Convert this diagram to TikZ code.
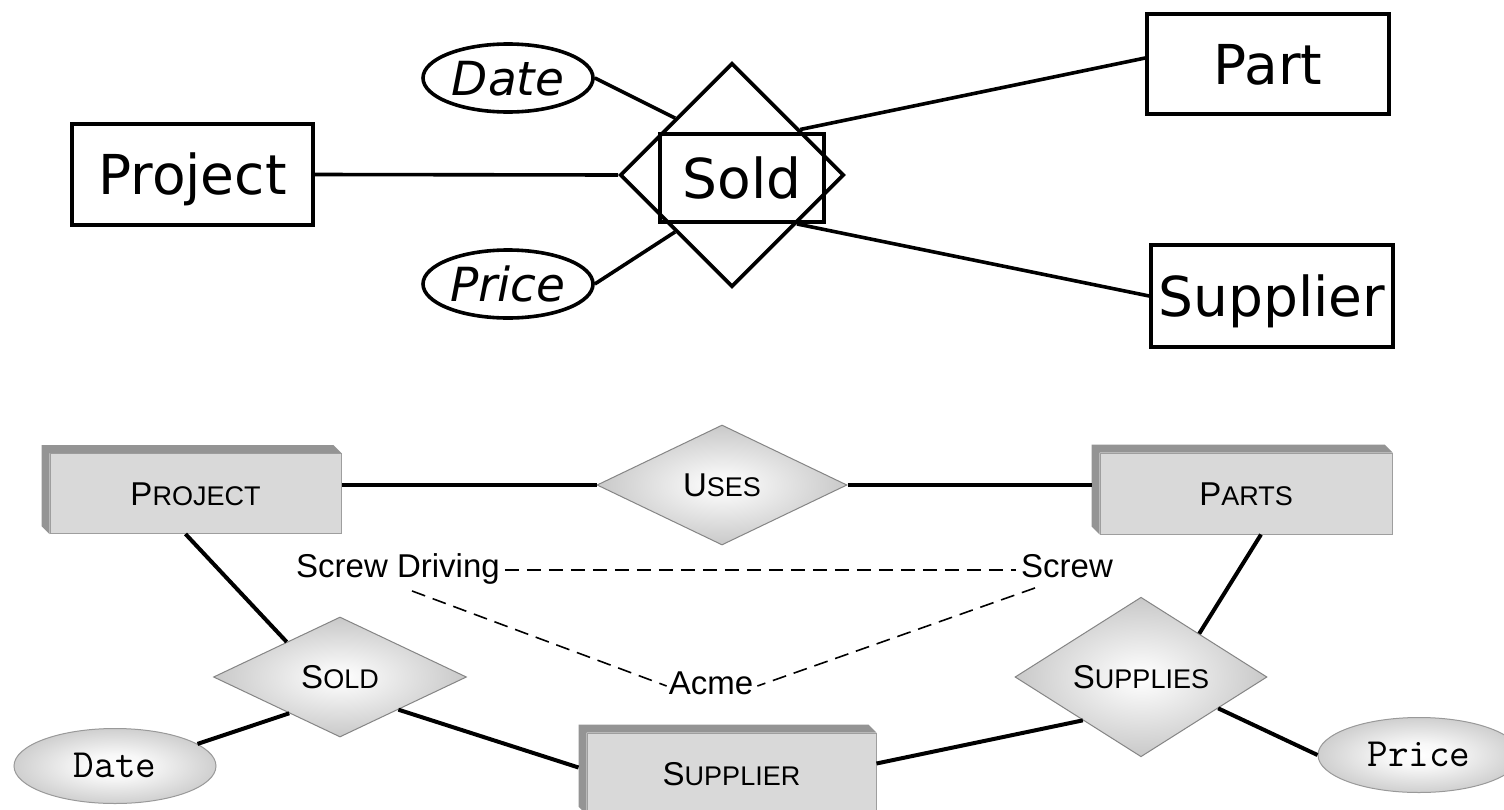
\documentclass[tikz,border=0pt]{standalone}
\usepackage{fontspec}
\setmainfont{DejaVu Sans}
\newfontfamily\helv{Liberation Sans}
\usetikzlibrary{shapes.geometric,calc}
\pgfdeclareradialshading{erdia}{\pgfpoint{0bp}{0bp}}{color(0bp)=(white); color(5bp)=(black!4); color(35bp)=(black!30); color(50bp)=(black!50)}
\pgfdeclareradialshading{erell}{\pgfpoint{0bp}{0bp}}{color(0bp)=(white); color(8bp)=(black!3); color(50bp)=(black!42)}
\newcommand\smc[2]{{\fontsize{33}{33}\selectfont #1}{\fontsize{27}{27}\selectfont #2}}
\newcommand\extr[1]{\fill[black!42] (#1.south west) -- ++(-8,-8) -- ($(#1.north west)+(-8,-8)$) -- ($(#1.north east)+(-8,-8)$) -- (#1.north east) -- (#1.north west) -- cycle;}
\begin{document}
\begin{tikzpicture}[x=1pt,y=-1pt,
  topent/.style={draw, line width=3.6pt, inner sep=0pt, text height=40pt, text depth=0pt, font=\fontsize{55}{60}\selectfont},
  topattr/.style={ellipse, draw, line width=3.6pt, fill=white, inner sep=0pt, minimum width=170pt, minimum height=68pt, text height=34pt, text depth=0pt, font=\fontsize{47}{50}\selectfont\itshape},
  toprel/.style={diamond, draw, line width=3.6pt, inner sep=0pt, aspect=1, minimum width=224pt, minimum height=224pt},
  topline/.style={line width=3.6pt},
  bent/.style={draw=black!38, line width=1pt, fill=black!15, inner sep=0pt, minimum width=291pt, minimum height=80pt, text height=23.5pt, text depth=0pt, font=\helv},
  brel/.style={diamond, draw=black!48, line width=1pt, shading=erdia, inner sep=0pt, minimum width=252pt, minimum height=120pt, text height=23.5pt, text depth=0pt, font=\helv},
  battr/.style={ellipse, draw=black!40, line width=1pt, shading=erell, inner sep=0pt, minimum width=202pt, minimum height=75pt, text height=23pt, text depth=0pt, font=\ttfamily\fontsize{40}{40}\selectfont},
  blab/.style={inner sep=0pt, text height=23.5pt, text depth=0pt, font=\helv\fontsize{33}{33}\selectfont},
  bline/.style={line width=4pt},
  inst/.style={line width=1.6pt, dash pattern=on 14pt off 8pt}
]
\useasboundingbox (0,0) rectangle (1504,809);
\clip (0,0) rectangle (1504,809);
\fill[white] (0,0) rectangle (1504,809);

% ---------- top diagram ----------
\node[toprel] (dia) at (732,175) {};
\node[topent, minimum width=164pt, minimum height=88pt] (soldr) at (742,178) {Sold};
\node[topent, minimum width=241pt, minimum height=101pt] (proj) at (192.5,174.5) {Project};
\node[topent, minimum width=242pt, minimum height=100pt] (part) at (1268,64) {Part};
\node[topent, minimum width=242pt, minimum height=102pt] (supp) at (1272,296) {Supplier};
\node[topattr] (date) at (508,78) {Date};
\node[topattr] (price) at (508,284) {Price};

\draw[topline] (proj.east) -- (dia.west);
\draw[topline] (date.east) -- (dia.north west);
\draw[topline] (price.east) -- (dia.south west);
\draw[topline] ($(dia.north)!0.6!(dia.east)$) -- ([yshift=6pt]part.west);
\draw[topline] ($(dia.south)!0.57!(dia.east)$) -- (supp.west);

% ---------- bottom diagram ----------
\node[bent] (bproj) at (195.5,493.5) {\smc{P}{ROJECT}};
\extr{bproj}
\node[bent, minimum width=292pt, minimum height=81pt] (parts) at (1246,493.5) {\smc{P}{ARTS}};
\extr{parts}
\node[bent, minimum width=289pt, minimum height=81pt] (bsupp) at (731.5,773.5) {\smc{S}{UPPLIER}};
\extr{bsupp}
\coordinate (partsL) at ([xshift=-8pt]parts.west);

\node[brel, minimum width=250pt] (uses) at (722,485) {\smc{U}{SES}};
\node[brel, minimum width=253pt] (bsold) at (340,677) {\smc{S}{OLD}};
\node[brel] (supplies) at (1141,677) {\smc{S}{UPPLIES}};
\node[battr] (bdate) at (115,766) {Date};
\node[battr] (bprice) at (1419,755) {Price};

\draw[bline] (uses.west) -- (uses.west -| bproj.east);
\draw[bline] (uses.east) -- (uses.east -| partsL);
\draw[bline] ([xshift=-10pt]bproj.south) -- ($(bsold.west)!0.58!(bsold.north)$);
\draw[bline] (bdate.15) -- ($(bsold.west)!0.6!(bsold.south)$);
\draw[bline] ($(bsold.south)!0.46!(bsold.east)$) -- ([xshift=-8pt,yshift=6pt]bsupp.west);
\draw[bline] ([yshift=10pt]bsupp.east) -- ($(supplies.south)!0.46!(supplies.west)$);
\draw[bline] ([xshift=15pt]parts.south) -- ($(supplies.north)!0.46!(supplies.east)$);
\draw[bline] ($(supplies.east)!0.39!(supplies.south)$) -- (bprice.west);

\node[blab] (sd) at (398,566) {Screw Driving};
\node[blab] (sc) at (1067,566) {Screw};
\node[blab] (ac) at (711,683) {Acme};
\draw[inst] ([xshift=5pt,yshift=-4pt]sd.east) -- ([xshift=-5pt,yshift=-4pt]sc.west);
\draw[inst] ([xshift=14pt,yshift=-13pt]sd.south) -- ([xshift=-2pt,yshift=-3pt]ac.west);
\draw[inst] ([xshift=-32pt,yshift=-10pt]sc.south) -- ([xshift=4pt,yshift=-3pt]ac.east);
\end{tikzpicture}
\end{document}
